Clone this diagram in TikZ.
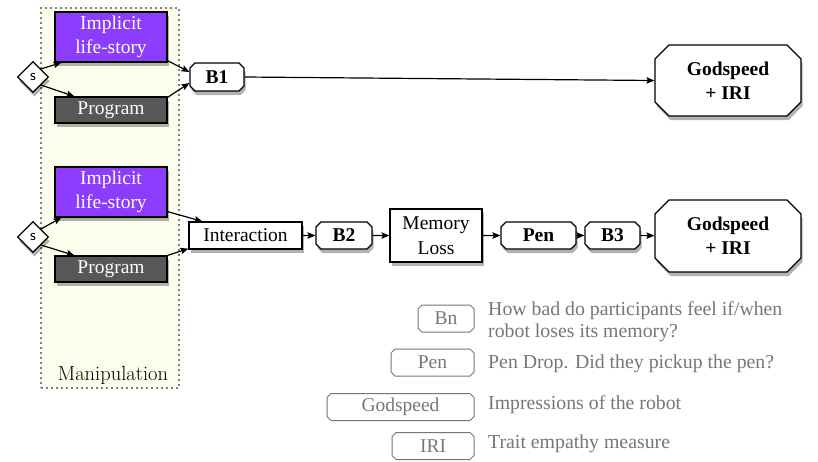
\documentclass[tikz,border=0pt]{standalone}
\usepackage{fontspec}
\newfontfamily\tms{Liberation Serif}
\usetikzlibrary{shapes.misc,shapes.geometric,shadows,arrows.meta,calc}
\definecolor{purp}{HTML}{8C3CFC}
\definecolor{dgray}{HTML}{575757}
\definecolor{manfill}{HTML}{FDFDEE}
\definecolor{lgray}{HTML}{767676}
\tikzset{
  shad/.style={drop shadow={shadow xshift=1.5pt,shadow yshift=-4pt,opacity=0.3,fill=black}},
  mbox/.style={draw=black,line width=1.2pt,rectangle,inner sep=0pt,align=center,shad,
    minimum width=112pt},
  cbox/.style={draw=black,line width=1.2pt,chamfered rectangle,chamfered rectangle xsep=2.5pt,
    chamfered rectangle ysep=2.5pt,inner sep=0pt,align=center,fill=white,shad,font=\tms\bfseries\fontsize{19.5}{24}\selectfont},
  gbox/.style={cbox,chamfered rectangle xsep=7pt,chamfered rectangle ysep=7pt,
    minimum width=146pt,minimum height=71pt},
  dia/.style={draw=black,line width=1.2pt,diamond,fill=white,minimum size=31pt,inner sep=0pt,
    shad,font=\sffamily\fontsize{16}{16}\selectfont},
  lbox/.style={draw=lgray,line width=1pt,chamfered rectangle,chamfered rectangle xsep=2pt,
    chamfered rectangle ysep=2pt,inner sep=0pt,text=lgray,minimum height=27pt},
  ltext/.style={anchor=west,text=lgray,align=left,inner sep=0pt,font=\tms\fontsize{19.8}{22}\selectfont},
  arr/.style={line width=1.2pt,-{Stealth[length=8pt,width=6.5pt,inset=1.5pt]}}
}
\begin{document}
\begin{tikzpicture}[x=1pt,y=-1pt,font=\tms\fontsize{19.5}{24.5}\selectfont]
\useasboundingbox (0,0) rectangle (818,461);
% manipulation area
\node[draw=gray,line width=1.2pt,dash pattern=on 2pt off 3pt,fill=manfill,rectangle,inner sep=0pt,
  minimum width=138pt,minimum height=380pt] (man) at (110,198) {};
\node[font=\rmfamily\fontsize{20.5}{24}\selectfont,inner sep=0pt] (manl) at (113,375) {Manipulation};
% row 1
\node[mbox,fill=purp,text=white,minimum height=50pt] (i1) at (111,37) {Implicit\\life-story};
\node[mbox,fill=dgray,text=white,minimum height=26pt] (p1) at (111,110) {Program};
\node[dia] (s1) at (33,77) {s};
\node[cbox,minimum width=54pt,minimum height=28pt] (b1) at (217,77) {B1};
\node[gbox] (g1) at (728,80.5) {Godspeed\\+ IRI};
\draw[arr] (s1.north east) -- ($(i1.south west)+(7,0)$);
\draw[arr] (s1.south east) -- ($(p1.north west)+(20,0)$);
\draw[arr] ($(i1.south east)+(0,-2)$) -- ($(b1.west)+(0,-5)$);
\draw[arr] ($(p1.north east)+(0,1)$) -- ($(b1.west)+(0,6)$);
\draw[arr] (b1.east) -- (g1.west);
% row 2
\node[mbox,fill=purp,text=white,minimum height=50pt] (i2) at (111,192) {Implicit\\life-story};
\node[mbox,fill=dgray,text=white,minimum height=26pt] (p2) at (111,269) {Program};
\node[dia] (s2) at (33,237) {s};
\node[mbox,fill=white,minimum width=113pt,minimum height=27pt] (int) at (245.5,235.5) {Interaction};
\node[cbox,minimum width=56pt,minimum height=27pt] (b2) at (344,235.5) {B2};
\node[mbox,fill=white,minimum width=92pt,minimum height=53pt] (mem) at (436,235.5) {Memory\\Loss};
\node[cbox,minimum width=75pt,minimum height=27pt] (pen) at (538.5,235.5) {Pen};
\node[cbox,minimum width=55pt,minimum height=27pt] (b3) at (612.5,235.5) {B3};
\node[gbox,minimum height=72pt] (g2) at (728,236) {Godspeed\\+ IRI};
\draw[arr] (s2.north east) -- ($(i2.south west)+(7,0)$);
\draw[arr] (s2.south east) -- ($(p2.north west)+(20,0)$);
\draw[arr] ($(i2.south east)+(0,-6)$) -- ($(int.north west)+(14,0)$);
\draw[arr] (p2.north east) -- ($(int.south west)+(0,-1)$);
\draw[arr] (int) -- (b2);
\draw[arr] (b2) -- (mem);
\draw[arr] (mem) -- (pen);
\draw[arr] (pen) -- (b3);
\draw[arr] (b3) -- (g2);
% legend
\node[lbox,minimum width=56pt] (lbn) at (446,318.5) {Bn};
\node[lbox,minimum width=83pt] (lpen) at (432.5,362.5) {Pen};
\node[lbox,minimum width=147pt] (lgod) at (400.5,407) {Godspeed};
\node[lbox,minimum width=82pt] (liri) at (433,446) {IRI};
\node[ltext] (tbn) at (488,322) {How bad do participants feel if/when\\robot loses its memory?};
\node[ltext] (tpen) at (488,364) {Pen Drop. Did they pickup the pen?};
\node[ltext] (tgod) at (488,405) {Impressions of the robot};
\node[ltext] (tiri) at (488,444) {Trait empathy measure};
\end{tikzpicture}
\end{document}
